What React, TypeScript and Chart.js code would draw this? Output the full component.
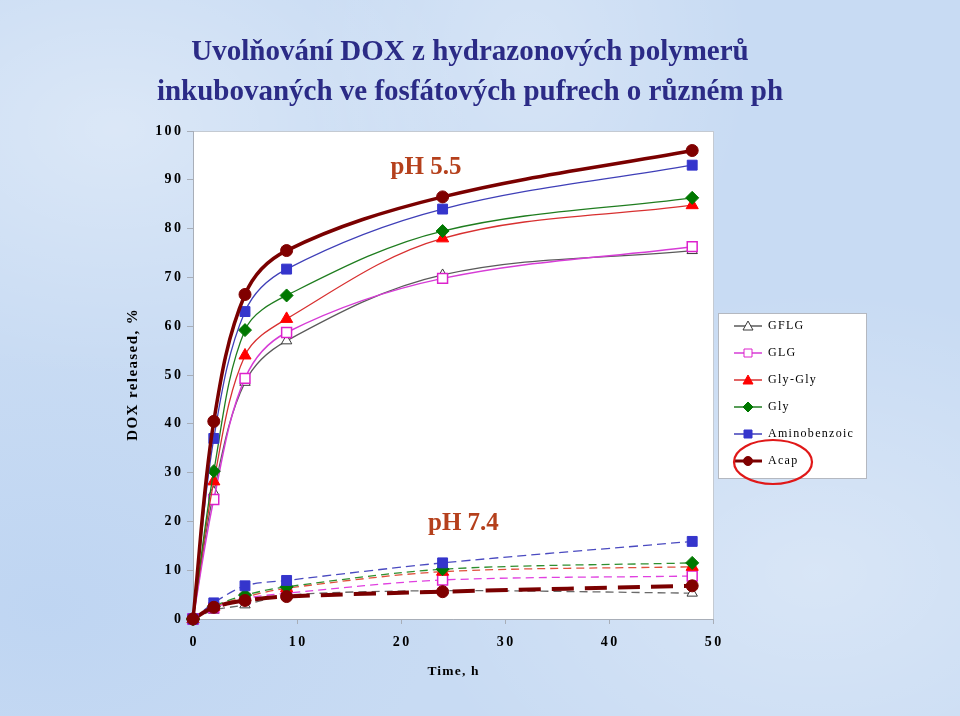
import React, { useEffect, useRef } from "react";
import { Chart, registerables } from "chart.js";

Chart.register(...registerables);

// ---------- text ----------
const CHART_TITLE = [
  "Uvolňování DOX z hydrazonových polymerů",
  "inkubovaných ve fosfátových pufrech o různém ph",
];
const X_AXIS_TITLE = "Time, h";
const Y_AXIS_TITLE = "DOX released, %";
const SERIES_NAMES = ["GFLG", "GLG", "Gly-Gly", "Gly", "Aminobenzoic", "Acap"];
const PH_LABELS = ["pH 5.5", "pH 7.4"];
const PH_LABEL_AT = [
  { x: 22.4, y: 92.6 },
  { x: 26.0, y: 19.6 },
];

// ---------- data ----------
const TIME_H = [0, 2, 5, 9, 24, 48];
const X_TICKS = [0, 10, 20, 30, 40, 50];
const Y_TICKS = [0, 10, 20, 30, 40, 50, 60, 70, 80, 90, 100];

const GFLG_PH55 = [0, 26, 48.5, 57, 70.5, 75.5];
const GLG_PH55 = [0, 24.5, 49.3, 58.7, 69.8, 76.3];
const GLYGLY_PH55 = [0, 28.2, 54, 61.5, 78, 84.8];
const GLY_PH55 = [0, 30.3, 59.2, 66.3, 79.5, 86.3];
const AMINO_PH55 = [0, 37, 63, 71.7, 84, 93];
const ACAP_PH55 = [0, 40.5, 66.5, 75.5, 86.5, 96];

const GFLG_PH74 = [0, 1.8, 2.9, 4.9, 5.8, 5.3];
const GLG_PH74 = [0, 2.3, 4.2, 5.3, 8.0, 8.8];
const GLYGLY_PH74 = [0, 2.5, 4.5, 6.3, 9.7, 10.7];
const GLY_PH74 = [0, 2.6, 4.9, 6.6, 10.2, 11.5];
const AMINO_PH74 = [0, 3.3, 6.8, 7.9, 11.5, 15.9];
const ACAP_PH74 = [0, 2.4, 3.8, 4.6, 5.6, 6.8];

const PH55 = [GFLG_PH55, GLG_PH55, GLYGLY_PH55, GLY_PH55, AMINO_PH55, ACAP_PH55];
const PH74 = [GFLG_PH74, GLG_PH74, GLYGLY_PH74, GLY_PH74, AMINO_PH74, ACAP_PH74];

// ---------- styles ----------
type Style = {
  line: string;
  width: number;
  marker: string;
  radius: number;
  fill: string;
  stroke: string;
  pbw: number;
  dashLine: string;
  dash: number[];
  dashWidth: number;
};
const STYLES: Style[] = [
  { line: "#5a5a5a", width: 1.3, marker: "triangle", radius: 6, fill: "#ffffff", stroke: "#3a3a3a", pbw: 1, dashLine: "#6a6a6a", dash: [8, 5], dashWidth: 1.3 },
  { line: "#d63cd6", width: 1.5, marker: "rect", radius: 7, fill: "#ffffff", stroke: "#dd22cc", pbw: 1.5, dashLine: "#e040e0", dash: [8, 5], dashWidth: 1.3 },
  { line: "#d83030", width: 1.3, marker: "triangle", radius: 7, fill: "#ff0000", stroke: "#ff0000", pbw: 1, dashLine: "#e0503c", dash: [8, 5], dashWidth: 1.3 },
  { line: "#1f7d1f", width: 1.3, marker: "rectRot", radius: 6.5, fill: "#007800", stroke: "#007800", pbw: 1, dashLine: "#2f8f2f", dash: [8, 5], dashWidth: 1.3 },
  { line: "#3f3fb8", width: 1.3, marker: "rect", radius: 7, fill: "#3535cc", stroke: "#3535cc", pbw: 1, dashLine: "#4a4ac0", dash: [9, 5], dashWidth: 1.3 },
  { line: "#7a0000", width: 3.5, marker: "circle", radius: 6, fill: "#800000", stroke: "#800000", pbw: 1, dashLine: "#7a0000", dash: [22, 11], dashWidth: 4 },
];

const SERIF = "'Liberation Serif', 'Times New Roman', serif";
// letter spacing (px) applied to small texts, keyed by font size
const LETTER_SPACING: Record<string, number> = { "14px": 2.4, "13.5px": 1.2, "15px": 1.4, "12px": 1.3 };
const LEGEND_W = 150;
const LEGEND_DX = 6;
const LEGEND_TOP = 305;

function makeIcon(st: Style): HTMLCanvasElement {
  const c = document.createElement("canvas");
  c.width = 28;
  c.height = 14;
  const g = c.getContext("2d")!;
  g.strokeStyle = st.line;
  g.lineWidth = st.marker === "circle" ? 3 : 1.5;
  g.beginPath();
  g.moveTo(0, 7);
  g.lineTo(28, 7);
  g.stroke();
  g.fillStyle = st.fill;
  g.strokeStyle = st.stroke;
  g.lineWidth = 1;
  const cx = 14, cy = 7;
  g.beginPath();
  if (st.marker === "triangle") {
    g.moveTo(cx, cy - 5);
    g.lineTo(cx + 5, cy + 4);
    g.lineTo(cx - 5, cy + 4);
    g.closePath();
  } else if (st.marker === "rect") {
    g.rect(cx - 4, cy - 4, 8, 8);
  } else if (st.marker === "rectRot") {
    g.moveTo(cx, cy - 5);
    g.lineTo(cx + 5, cy);
    g.lineTo(cx, cy + 5);
    g.lineTo(cx - 5, cy);
    g.closePath();
  } else {
    g.arc(cx, cy, 4.5, 0, Math.PI * 2);
  }
  g.fill();
  g.stroke();
  return c;
}

export default function App() {
  const ref = useRef<HTMLCanvasElement>(null);

  useEffect(() => {
    const canvas = ref.current!;
    const ctx = canvas.getContext("2d")!;
    const origFill = ctx.fillText.bind(ctx);
    (ctx as any).fillText = (t: string, x: number, y: number, mw?: number) => {
      const m = /(\d+(?:\.\d+)?)px/.exec(ctx.font);
      const sp = m ? LETTER_SPACING[m[1] + "px"] || 0 : 0;
      if (!sp) {
        if (mw === undefined || mw === null) origFill(t, x, y);
        else origFill(t, x, y, mw);
        return;
      }
      const prev = (ctx as any).letterSpacing;
      (ctx as any).letterSpacing = sp + "px";
      let xx = x;
      if (ctx.textAlign === "right" || ctx.textAlign === "end") xx += sp;
      else if (ctx.textAlign === "center") xx += sp / 2;
      if (mw === undefined || mw === null) origFill(t, xx, y);
      else origFill(t, xx, y, mw);
      (ctx as any).letterSpacing = prev;
    };

    const icons = STYLES.map(makeIcon);

    const datasets: any[] = [];
    PH55.forEach((vals, i) => {
      const st = STYLES[i];
      datasets.push({
        label: SERIES_NAMES[i],
        data: TIME_H.map((x, k) => ({ x, y: vals[k] })),
        borderColor: st.line,
        borderWidth: st.width,
        pointStyle: st.marker,
        pointRadius: st.radius,
        pointBackgroundColor: st.fill,
        pointBorderColor: st.stroke,
        pointBorderWidth: st.pbw,
        tension: 0.35,
        clip: false,
        fill: false,
        order: 5 - i,
      });
    });
    PH74.forEach((vals, i) => {
      const st = STYLES[i];
      datasets.push({
        label: SERIES_NAMES[i] + " pH 7.4",
        data: TIME_H.map((x, k) => ({ x, y: vals[k] })),
        borderColor: st.dashLine,
        borderWidth: st.dashWidth,
        borderDash: st.dash,
        pointStyle: st.marker,
        pointRadius: st.radius,
        pointBackgroundColor: st.fill,
        pointBorderColor: st.stroke,
        pointBorderWidth: st.pbw,
        tension: 0.3,
        clip: false,
        fill: false,
        order: 11 - i,
      });
    });

    const decor = {
      id: "decor",
      beforeLayout(chart: any) {
        const lg = chart.legend;
        if (lg && !lg._fixedW) {
          const f = lg.fit.bind(lg);
          lg.fit = function () {
            f();
            this.width = LEGEND_W;
          };
          lg._fixedW = true;
        }
      },
      afterLayout(chart: any) {
        const lg = chart.legend;
        const ca = chart.chartArea;
        const w = lg.width;
        const h = lg.height;
        lg.left = ca.right + LEGEND_DX;
        lg.right = lg.left + w;
        lg.top = LEGEND_TOP;
        lg.bottom = lg.top + h;
      },
      beforeDraw(chart: any) {
        const c = chart.ctx;
        const ca = chart.chartArea;
        c.save();
        c.fillStyle = "#ffffff";
        c.fillRect(ca.left, ca.top, ca.right - ca.left, ca.bottom - ca.top);
        c.strokeStyle = "#c4cad2";
        c.lineWidth = 1;
        c.strokeRect(ca.left + 0.5, ca.top + 0.5, ca.right - ca.left, ca.bottom - ca.top);
        // legend frame
        const lx = ca.right + 5;
        c.fillStyle = "#ffffff";
        c.fillRect(lx, 313, 148, 165);
        c.strokeStyle = "#b4b8c0";
        c.strokeRect(lx + 0.5, 313.5, 148, 165);
        c.restore();
      },
      afterDatasetsDraw(chart: any) {
        const c = chart.ctx;
        const xs = chart.scales.x;
        const ys = chart.scales.y;
        c.save();
        c.fillStyle = "#b5401c";
        c.font = "bold 25px " + SERIF;
        c.textAlign = "center";
        c.textBaseline = "middle";
        PH_LABELS.forEach((t, i) => {
          c.fillText(t, xs.getPixelForValue(PH_LABEL_AT[i].x), ys.getPixelForValue(PH_LABEL_AT[i].y));
        });
        c.restore();
      },
      afterDraw(chart: any) {
        const c = chart.ctx;
        const lg = chart.legend;
        const cy = lg.top + 15 + 5 * 27 + 7;
        c.save();
        c.strokeStyle = "#e01818";
        c.lineWidth = 2.2;
        c.beginPath();
        c.ellipse(lg.left + 54, cy, 39, 22, 0, 0, Math.PI * 2);
        c.stroke();
        c.restore();
      },
    };

    const chart = new Chart(canvas, {
      type: "line",
      data: { datasets },
      options: {
        responsive: false,
        devicePixelRatio: 1,
        animation: false,
        events: [],
        layout: { padding: { top: 0, left: 77, right: 97, bottom: 36 } },
        scales: {
          x: {
            type: "linear",
            min: 0,
            max: 50,
            afterBuildTicks: (s: any) => {
              s.ticks = X_TICKS.map((v) => ({ value: v }));
            },
            afterFit: (s: any) => {
              s.height = 61;
            },
            ticks: {
              color: "#000",
              padding: 10,
              font: { family: SERIF, size: 14, weight: "bold" },
            },
            grid: { drawOnChartArea: false, drawTicks: true, tickLength: 5, color: "#a8aeb8" },
            border: { display: true, color: "#a8aeb8" },
            title: {
              display: true,
              text: X_AXIS_TITLE,
              color: "#000",
              padding: 0,
              font: { family: SERIF, size: 13.5, weight: "bold" },
            },
          },
          y: {
            type: "linear",
            min: 0,
            max: 100,
            afterBuildTicks: (s: any) => {
              s.ticks = Y_TICKS.map((v) => ({ value: v }));
            },
            afterFit: (s: any) => {
              s.width = 116;
            },
            ticks: {
              color: "#000",
              padding: 6,
              font: { family: SERIF, size: 14, weight: "bold" },
            },
            grid: { drawOnChartArea: false, drawTicks: true, tickLength: 6, color: "#a8aeb8" },
            border: { display: true, color: "#a8aeb8" },
            title: {
              display: true,
              text: Y_AXIS_TITLE,
              color: "#000",
              padding: { top: 47, bottom: 0 },
              font: { family: SERIF, size: 15, weight: "bold" },
            },
          },
        },
        plugins: {
          tooltip: { enabled: false },
          title: {
            display: true,
            text: CHART_TITLE,
            color: "#2b2b86",
            font: { family: SERIF, size: 29, weight: "bold", lineHeight: "40px" },
            padding: { top: 33, bottom: 18 },
          },
          legend: {
            display: true,
            position: "right",
            align: "start",
            labels: {
              usePointStyle: true,
              pointStyleWidth: 28,
              padding: 15,
              color: "#000",
              font: { family: SERIF, size: 12 },
              generateLabels: () =>
                SERIES_NAMES.map((name, i) => ({
                  text: name,
                  pointStyle: icons[i],
                  fillStyle: "rgba(0,0,0,0)",
                  strokeStyle: "rgba(0,0,0,0)",
                  lineWidth: 0,
                  hidden: false,
                  datasetIndex: i,
                  fontColor: "#000",
                })),
            },
          },
        },
      } as any,
      plugins: [decor as any],
    });

    return () => {
      chart.destroy();
      delete (ctx as any).fillText;
    };
  }, []);

  return (
    <div
      style={{
        position: "absolute",
        left: 0,
        top: 0,
        width: 960,
        height: 716,
        background:
          "radial-gradient(ellipse at 12% 18%, rgba(255,255,255,0.35) 0, rgba(255,255,255,0) 30%)," +
          "radial-gradient(ellipse at 85% 80%, rgba(255,255,255,0.3) 0, rgba(255,255,255,0) 35%)," +
          "radial-gradient(ellipse at 55% 8%, rgba(255,255,255,0.25) 0, rgba(255,255,255,0) 30%)," +
          "radial-gradient(ellipse at 5% 85%, rgba(170,200,240,0.3) 0, rgba(170,200,240,0) 30%)," +
          "#c8dbf3",
      }}
    >
      <canvas ref={ref} width={960} height={716} style={{ display: "block" }} />
    </div>
  );
}
